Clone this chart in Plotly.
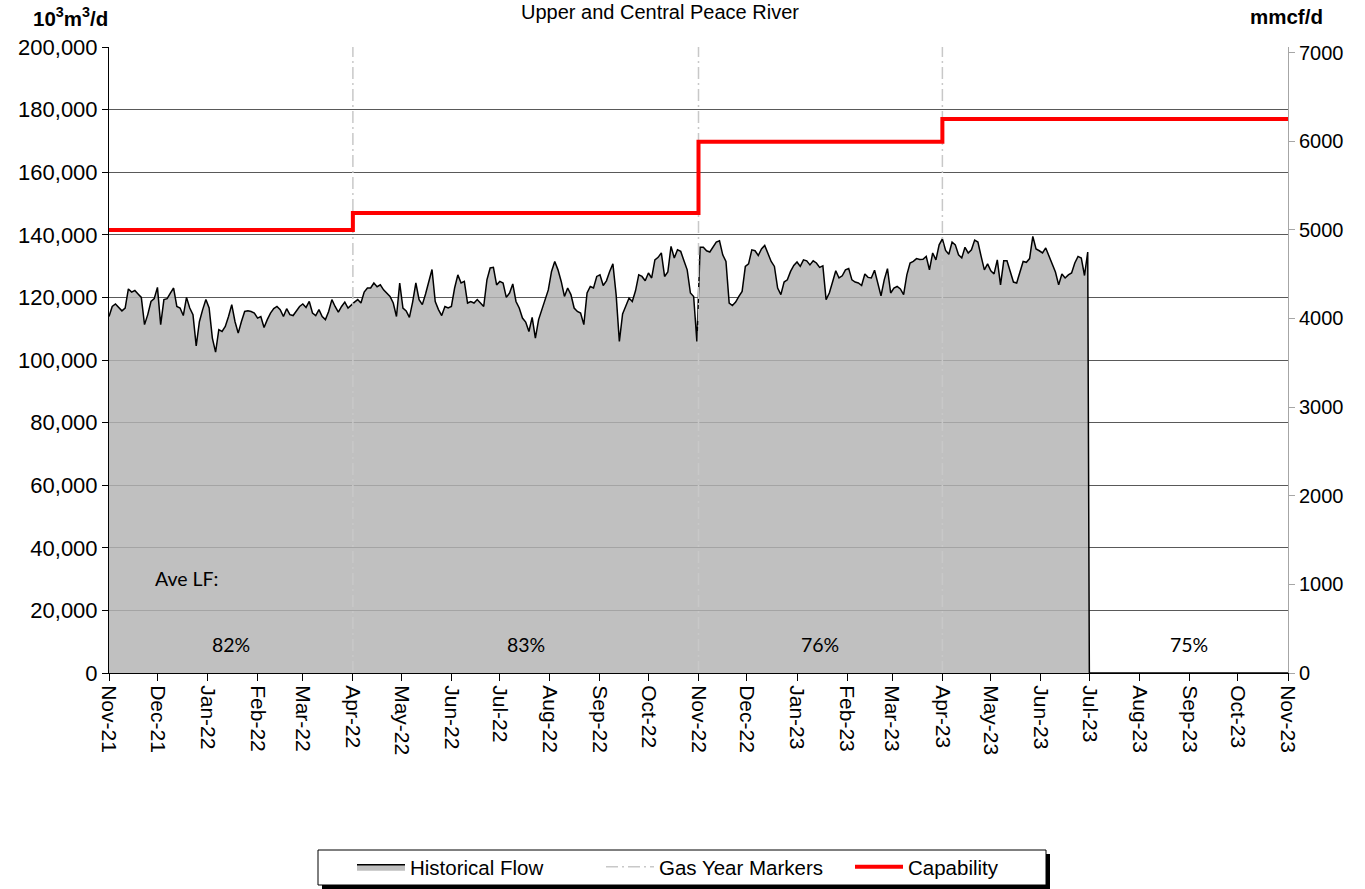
import plotly.graph_objects as go
import pandas as pd

# ---------------- data ----------------
flow_start = "2021-11-01"          # first daily reading
flow_step_days = 2                 # readings taken every second day
# Historical flow, 10^3 m3/d
flow = [
    113.9, 117.1, 117.9, 116.8, 115.7, 116.6, 122.7, 121.7, 122.2, 121.1, 120.0, 111.3, 114.5, 118.7, 119.6, 123.2,
    111.3, 119.3, 119.6, 121.4, 123.0, 117.1, 116.6, 114.2, 120.0, 116.6, 114.5, 104.5, 112.3, 116.1, 119.3, 116.6,
    107.0, 102.5, 109.7, 109.1, 110.7, 113.9, 117.7, 112.3, 108.6, 112.3, 115.5, 115.7, 115.5, 115.0, 113.4, 113.9,
    110.4, 112.9, 115.0, 116.4, 117.1, 116.1, 113.9, 116.4, 114.5, 114.2, 115.5, 117.1, 117.9, 116.8, 118.7, 115.0,
    114.2, 116.1, 113.9, 112.9, 115.5, 119.3, 117.1, 115.3, 117.1, 118.5, 116.6, 117.7,
    118.5, 119.3, 118.2, 121.7, 123.0, 123.0, 124.6, 123.4, 124.0, 122.4, 121.4, 120.3, 118.2, 113.9, 124.6, 116.6,
    115.7, 113.6, 118.5, 124.6, 119.3, 117.7, 121.1, 124.6, 128.9, 118.7, 116.1, 114.2, 117.1, 116.6, 117.1, 123.0,
    127.2, 124.6, 125.1, 118.2, 118.7, 118.2, 119.3, 118.2, 117.1, 125.6, 129.4, 129.6, 124.0, 125.1, 124.6, 120.0,
    121.4, 124.3, 118.7, 116.6, 113.4, 112.1, 109.1, 113.6, 107.0, 112.9, 116.1, 119.3, 122.4, 128.3, 131.5, 128.8,
    125.1, 120.3, 123.0, 120.9, 116.6, 115.5, 115.0, 111.3, 121.4, 123.5, 123.0, 126.7,
    127.2, 123.8, 125.3, 128.3, 130.7, 120.9, 105.9, 114.7, 117.1, 119.8, 118.7, 122.1, 127.2, 126.7, 125.3, 127.8,
    126.2, 132.0, 132.8, 134.2, 126.7, 128.1, 136.3, 132.6, 135.2, 134.7, 131.7, 128.8, 121.4, 120.3, 105.9, 136.0,
    136.0, 134.9, 134.5, 136.3, 137.7, 138.1, 133.6, 131.5, 118.2, 117.4, 118.5, 120.3, 121.9, 129.9, 130.7, 135.2,
    134.9, 133.4, 135.5, 136.6, 133.8, 131.5, 129.9, 123.0, 120.9, 124.9, 125.6, 128.3, 130.2, 131.3, 129.9, 132.0,
    131.7, 130.4, 131.7, 131.0, 129.6, 130.1, 119.3, 121.4, 124.9, 128.5, 126.2, 126.9,
    128.8, 129.2, 125.6, 124.9, 124.6, 123.8, 127.5, 126.4, 126.2, 128.7, 124.6, 120.5, 125.6, 129.2, 121.4, 123.0,
    123.5, 122.7, 120.9, 127.2, 131.0, 131.5, 132.4, 132.1, 132.2, 133.1, 128.8, 134.2, 132.0, 136.8, 138.7, 135.0,
    133.8, 137.7, 136.8, 133.6, 132.6, 136.0, 134.2, 135.2, 138.3, 137.7, 133.1, 128.8, 130.7, 128.5, 127.5, 132.0,
    124.0, 131.7, 131.7, 128.3, 124.9, 124.6, 128.5, 131.5, 131.2, 132.4, 139.5, 135.5, 134.9, 134.2, 135.8, 133.1,
    130.7, 128.1, 124.0, 127.5, 126.2, 127.2, 127.8, 131.0, 133.1, 132.6, 127.0, 134.5,
]
# no flow after the last reading (rest of the gas year)
after_dates = ["2023-07-01", "2023-11-01"]
after_flow = [0, 0]

cap_dates = ["2021-11-01", "2022-04-01", "2022-11-01", "2023-04-01", "2023-11-01"]
capability = [141500, 147000, 169700, 177000, 177000]

gas_year_markers = ["2022-04-01", "2022-11-01", "2023-04-01"]

lf_starts = ["2021-11-01", "2022-04-01", "2022-11-01", "2023-07-01"]
lf_ends = ["2022-04-01", "2022-11-01", "2023-04-01", "2023-11-01"]
lf_labels = ["82%", "83%", "76%", "75%"]

x_start, x_end = "2021-11-01", "2023-11-01"
y_max = 200000
MMCF_PER_E3M3 = 0.0353147

# ---------------- build ----------------
flow_dates = pd.date_range(flow_start, periods=len(flow), freq=f"{flow_step_days}D")
fx = list(flow_dates) + [pd.Timestamp(d) for d in after_dates]
fy = [v * 1000 for v in flow] + after_flow

mx, my = [], []
for d in gas_year_markers:
    mx += [d, d, None]
    my += [0, y_max, None]

FONT = "Arial, Liberation Sans, sans-serif"
CAL = "Lato, sans-serif"

fig = go.Figure()
fig.add_trace(go.Scatter(
    x=fx, y=fy, name="Historical Flow", mode="lines",
    line=dict(color="black", width=1.5), fill="tozeroy",
    fillcolor="rgba(179,179,179,0.83)",
))
fig.add_trace(go.Scatter(
    x=mx, y=my, name="Gas Year Markers", mode="lines",
    line=dict(color="#c8c8c8", width=1.5, dash="12px,4px,2px,4px"),
))
fig.add_trace(go.Scatter(
    x=cap_dates, y=capability, name="Capability", mode="lines",
    line=dict(color="#ff0000", width=4, shape="hv"),
))
fig.add_trace(go.Scatter(
    x=[x_start], y=[0], yaxis="y2", mode="markers",
    marker=dict(opacity=0), showlegend=False, hoverinfo="skip",
))

L, R, T, B = 109, 77, 47, 216
W, H = 1365, 889
pw, ph = W - L - R, H - T - B


def px(x):
    return (x - L) / pw


def py(y):
    return (H - B - y) / ph


def ann(text, x, y, size, family=FONT, xref="paper", yref="paper"):
    return dict(text=text, x=x, y=y, xref=xref, yref=yref, showarrow=False,
                xanchor="center", yanchor="middle",
                font=dict(family=family, size=size, color="black"))


annotations = [
    ann("Upper and Central Peace River", px(660), py(12), 20),
    ann("<b>10<sup>3</sup>m<sup>3</sup>/d</b>", px(70), py(17), 20.5),
    ann("<b>mmcf/d</b>", px(1286), py(17), 20.5),
    ann("Ave LF:", px(186), py(578), 19.5, CAL),
]
for s, e, lab in zip(lf_starts, lf_ends, lf_labels):
    mid = pd.Timestamp(s) + (pd.Timestamp(e) - pd.Timestamp(s)) / 2
    annotations.append(ann(lab, mid, 9000, 19.5, CAL, xref="x", yref="y"))

shapes = [
    dict(type="rect", xref="paper", yref="paper", x0=px(322), x1=px(1050), y0=py(889), y1=py(854),
         fillcolor="black", line=dict(width=0)),
    dict(type="rect", xref="paper", yref="paper", x0=px(318), x1=px(1046), y0=py(885), y1=py(850),
         fillcolor="white", line=dict(color="black", width=1)),
]

fig.update_layout(
    width=W, height=H,
    margin=dict(l=L, r=R, t=T, b=B, pad=0),
    paper_bgcolor="white", plot_bgcolor="white",
    font=dict(family=FONT, color="black"),
    showlegend=True,
    legend=dict(orientation="h", xref="container", yref="container",
                x=352 / W, xanchor="left", y=1 - 867 / H, yanchor="middle",
                bgcolor="rgba(0,0,0,0)", borderwidth=0, font=dict(family=FONT, size=20.5),
                entrywidth=186, entrywidthmode="pixels", itemwidth=48),
    xaxis=dict(type="date", range=[x_start, x_end], tick0=x_start, dtick="M1", tickformat="%b-%y",
               tickangle=90, ticks="outside", ticklen=7, tickcolor="black", showline=True,
               linecolor="black", linewidth=1, showgrid=False, zeroline=False,
               tickfont=dict(family=FONT, size=21, color="black")),
    yaxis=dict(range=[0, y_max], dtick=20000, tick0=0, tickformat=",d", showgrid=True,
               gridcolor="#595959", gridwidth=1, showline=True, linecolor="black", linewidth=1,
               ticks="outside", ticklen=6, tickcolor="black", zeroline=False,
               tickfont=dict(family=FONT, size=22, color="black")),
    yaxis2=dict(overlaying="y", side="right", range=[0, y_max * MMCF_PER_E3M3], dtick=1000, tick0=0,
                tickformat="d", showgrid=False, showline=True, linecolor="#a6a6a6", linewidth=1,
                ticks="outside", ticklen=6, tickcolor="#a6a6a6", zeroline=False,
                tickfont=dict(family=FONT, size=20, color="black")),
    annotations=annotations,
    shapes=shapes,
)

fig.write_html("out.html", config={"displayModeBar": False},
               post_script="document.body.style.margin='0px';")
